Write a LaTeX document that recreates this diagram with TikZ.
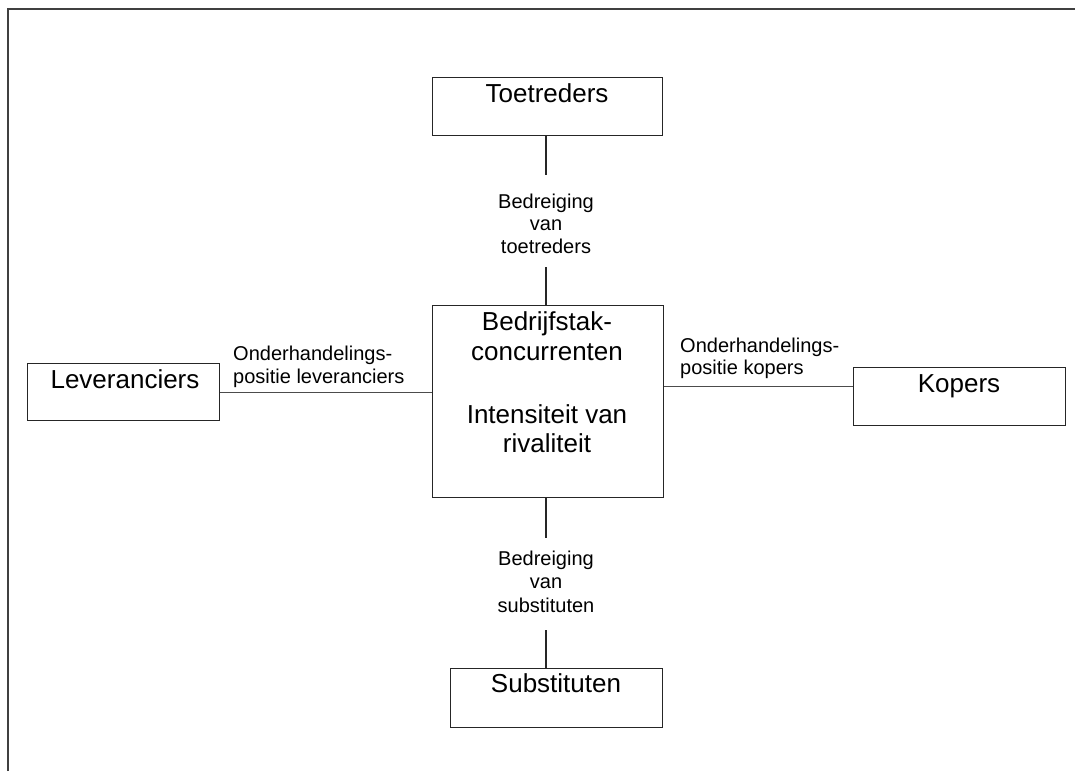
\documentclass[tikz,border=0pt]{standalone}
\usepackage{fontspec}
\setmainfont{Liberation Sans}
\begin{document}
\begin{tikzpicture}[x=1pt,y=-1pt,
  boxstyle/.style={draw=black!85, line width=0.9pt, inner sep=0pt},
  bigtext/.style={font=\fontsize{26}{30}\selectfont, inner sep=0pt, anchor=base, align=center},
  smalltext/.style={font=\fontsize{20}{22.5}\selectfont, inner sep=0pt, align=center},
  conn/.style={draw=black!85, line width=1.3pt},
  hconn/.style={draw=black!70, line width=0.9pt},
  frame/.style={draw=black!75, line width=1.8pt}]
\useasboundingbox (0,0) rectangle (1075,771);
% frame
\draw[frame] (8,771) -- (8,9) -- (1075,9);
% boxes
\node[boxstyle, minimum width=230pt, minimum height=58pt, anchor=north west] (tbox) at (432,77) {};
\node[boxstyle, minimum width=231pt, minimum height=192pt, anchor=north west] (cbox) at (432,305) {};
\node[boxstyle, minimum width=212pt, minimum height=59pt, anchor=north west] (sbox) at (450,668) {};
\node[boxstyle, minimum width=192pt, minimum height=57pt, anchor=north west] (lbox) at (27,363) {};
\node[boxstyle, minimum width=212pt, minimum height=58pt, anchor=north west] (kbox) at (853,367) {};
% box texts
\node[bigtext] (ttxt) at (547,102) {Toetreders};
\node[bigtext] (stxt) at (556,692) {Substituten};
\node[bigtext] (ltxt) at (125,388) {Leveranciers};
\node[bigtext] (ktxt) at (959,392) {Kopers};
\node[bigtext] (c1) at (547,330) {Bedrijfstak-};
\node[bigtext] (c2) at (547,360) {concurrenten};
\node[bigtext] (c3) at (547,423) {Intensiteit van};
\node[bigtext] (c4) at (547,452) {rivaliteit};
% labels
\node[smalltext, anchor=base] (tl1) at (546,208) {Bedreiging};
\node[smalltext, anchor=base] (tl2) at (546,230) {van};
\node[smalltext, anchor=base] (tl3) at (546,253) {toetreders};
\node[smalltext, anchor=base] (bl1) at (546,565) {Bedreiging};
\node[smalltext, anchor=base] (bl2) at (546,588) {van};
\node[smalltext, anchor=base] (bl3) at (546,612) {substituten};
\node[smalltext, anchor=base west] (ll1) at (233,360) {Onderhandelings-};
\node[smalltext, anchor=base west] (ll2) at (233,383) {positie leveranciers};
\node[smalltext, anchor=base west] (rl1) at (680,352) {Onderhandelings-};
\node[smalltext, anchor=base west] (rl2) at (680,374) {positie kopers};
% connector gap ends
\coordinate (tg1) at (546,175);
\coordinate (tg2) at (546,267);
\coordinate (bg1) at (546,538);
\coordinate (bg2) at (546,630);
\coordinate (ly) at (0,392);
\coordinate (ry) at (0,386);
% connectors
\draw[conn] (tbox.south -| tg1) -- (tg1);
\draw[conn] (tg2) -- (cbox.north -| tg2);
\draw[conn] (cbox.south -| bg1) -- (bg1);
\draw[conn] (bg2) -- (sbox.north -| bg2);
\draw[hconn] (lbox.east |- ly) -- (cbox.west |- ly);
\draw[hconn] (cbox.east |- ry) -- (kbox.west |- ry);
\end{tikzpicture}
\end{document}
